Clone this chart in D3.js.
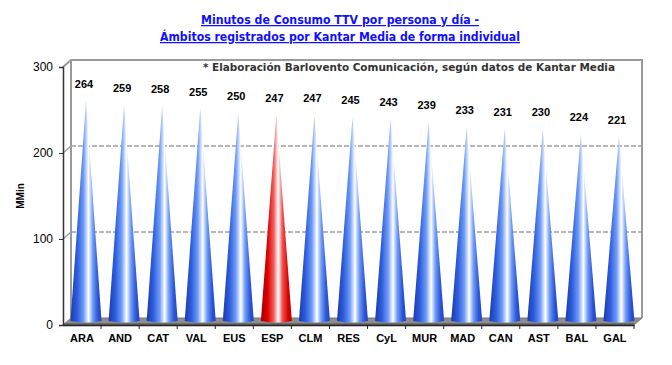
<!DOCTYPE html>
<html>
<head>
<meta charset="utf-8">
<script src="https://cdn.jsdelivr.net/npm/d3@7"></script>
<style>
  body { margin: 0; background: #fff; }
  svg { display: block; font-family: "Liberation Sans", Arial, sans-serif; }
</style>
</head>
<body>
<script>
const categories = ["ARA", "AND", "CAT", "VAL", "EUS", "ESP", "CLM", "RES", "CyL", "MUR", "MAD", "CAN", "AST", "BAL", "GAL"];
const values = [264, 259, 258, 255, 250, 247, 247, 245, 243, 239, 233, 231, 230, 224, 221];
const yTicks = [0, 100, 200, 300];
const highlight = "ESP";

const width = 672;
const height = 365;
const depth = { dx: 8, dy: -7 };

const svg = d3.select("body").append("svg")
  .attr("width", width)
  .attr("height", height);

const defs = svg.append("defs");
function coneGrad(id, stops) {
  const g = defs.append("linearGradient").attr("id", id)
    .attr("x1", "0%").attr("x2", "100%").attr("y1", "0%").attr("y2", "0%");
  stops.forEach(s => g.append("stop").attr("offset", s[0]).attr("stop-color", s[1]));
}
coneGrad("blueCone", [["0%", "#1c3aa8"], ["22%", "#2f5ee0"], ["42%", "#6f9cf5"], ["58%", "#ffffff"], ["72%", "#6f9cf5"], ["88%", "#2d55d8"], ["100%", "#2444b8"]]);
coneGrad("redCone", [["0%", "#a00000"], ["22%", "#e00000"], ["42%", "#f06060"], ["56%", "#ffffff"], ["70%", "#f05050"], ["88%", "#d80000"], ["100%", "#b00000"]]);

const x = d3.scaleBand().domain(categories).range([63, 634]);
const y = d3.scaleLinear().domain([0, 300]).range([325, 67]);
// cones stand in the middle of the floor depth
const yCone = d3.scaleLinear().domain([0, 300]).range([321, 71]);

const left = x.range()[0], right = x.range()[1];

// walls and gridlines
const wall = svg.append("g");
wall.append("path")
  .attr("d", `M${left},${y(300)}L${left + depth.dx},${y(300) + depth.dy}L${right + depth.dx},${y(300) + depth.dy}L${right + depth.dx},${y(0) + depth.dy}`)
  .attr("fill", "none").attr("stroke", "#9a9a9a").attr("stroke-width", 2);
wall.append("line")
  .attr("x1", left + depth.dx).attr("x2", left + depth.dx)
  .attr("y1", y(300) + depth.dy).attr("y2", y(0) + depth.dy)
  .attr("stroke", "#9a9a9a").attr("stroke-width", 2);

[100, 200].forEach(v => {
  wall.append("line")
    .attr("x1", left).attr("y1", y(v))
    .attr("x2", left + depth.dx).attr("y2", y(v) + depth.dy)
    .attr("stroke", "#a0a0a0").attr("stroke-width", 1.5);
  wall.append("line")
    .attr("x1", left + depth.dx).attr("y1", y(v) + depth.dy)
    .attr("x2", right + depth.dx).attr("y2", y(v) + depth.dy)
    .attr("stroke", "#a0a0a0").attr("stroke-width", 1.5)
    .attr("stroke-dasharray", "5,2");
});

// floor
svg.append("path")
  .attr("d", `M${left},${y(0)}L${left + depth.dx},${y(0) + depth.dy}L${right + depth.dx},${y(0) + depth.dy}L${right},${y(0)}Z`)
  .attr("fill", "#8e8e8e").attr("stroke", "#777").attr("stroke-width", 1);
svg.append("rect")
  .attr("x", left).attr("y", y(0) - 2).attr("width", right - left).attr("height", 2)
  .attr("fill", "#6a6a6a");

// cones
const coneW = 31;
svg.append("g").selectAll("path")
  .data(values)
  .join("path")
  .attr("d", (d, i) => {
    const cx = x(categories[i]) + x.bandwidth() / 2 + 4;
    const b = yCone(0);
    return `M${cx - coneW / 2},${b}L${cx},${yCone(d)}L${cx + coneW / 2},${b}Q${cx},${b + 3} ${cx - coneW / 2},${b}Z`;
  })
  .attr("fill", (d, i) => categories[i] === highlight ? "url(#redCone)" : "url(#blueCone)");

// value labels
svg.append("g").selectAll("text")
  .data(values)
  .join("text")
  .attr("x", (d, i) => x(categories[i]) + x.bandwidth() / 2 + 2)
  .attr("y", d => yCone(d) - 13)
  .attr("text-anchor", "middle")
  .attr("font-size", 11).attr("font-weight", "bold")
  .text(d => d);

// y axis
const yAxis = svg.append("g")
  .attr("transform", `translate(${left},0)`)
  .call(d3.axisLeft(y).tickValues(yTicks).tickSize(4).tickPadding(6));
yAxis.select(".domain").attr("stroke", "#333").attr("stroke-width", 1.5);
yAxis.selectAll(".tick line").attr("stroke", "#333");
yAxis.selectAll("text").attr("font-size", 12).attr("fill", "#000")
  .attr("font-family", "Liberation Sans, Arial, sans-serif");

// x axis
const xAxis = svg.append("g")
  .attr("transform", `translate(0,${y(0)})`)
  .call(d3.axisBottom(x).tickSize(0).tickPadding(9));
xAxis.select(".domain").attr("stroke", "#222").attr("stroke-width", 1.5);
xAxis.selectAll("text").attr("font-size", 11).attr("font-weight", "bold").attr("fill", "#000")
  .attr("font-family", "Liberation Sans, Arial, sans-serif");
xAxis.selectAll(".bound")
  .data(categories)
  .join("line")
  .attr("class", "bound")
  .attr("x1", c => x(c) + x.bandwidth()).attr("x2", c => x(c) + x.bandwidth())
  .attr("y1", 0).attr("y2", 4)
  .attr("stroke", "#222");

// axis title
svg.append("text")
  .attr("transform", "translate(24,196) rotate(-90)")
  .attr("text-anchor", "middle")
  .attr("font-size", 10).attr("font-weight", "bold")
  .text("MMin");

// chart title
const title = svg.append("g").attr("fill", "#1010ff").attr("font-weight", "bold")
  .attr("font-size", 12.5).attr("text-anchor", "middle").attr("text-decoration", "underline")
  .attr("font-family", "DejaVu Sans, Verdana, sans-serif");
title.append("text").attr("x", 340).attr("y", 24)
  .attr("textLength", 278).attr("lengthAdjust", "spacingAndGlyphs")
  .text("Minutos de Consumo TTV  por persona y día -");
title.append("text").attr("x", 340).attr("y", 41)
  .attr("textLength", 360).attr("lengthAdjust", "spacingAndGlyphs")
  .text("Ámbitos registrados por Kantar Media de forma individual");

// source note
svg.append("text")
  .attr("x", 409).attr("y", 71)
  .attr("text-anchor", "middle")
  .attr("font-size", 11).attr("font-weight", "bold").attr("fill", "#333")
  .attr("font-family", "DejaVu Sans, Verdana, sans-serif")
  .attr("textLength", 412).attr("lengthAdjust", "spacingAndGlyphs")
  .text("* Elaboración  Barlovento Comunicación, según datos de Kantar Media");
</script>
</body>
</html>
